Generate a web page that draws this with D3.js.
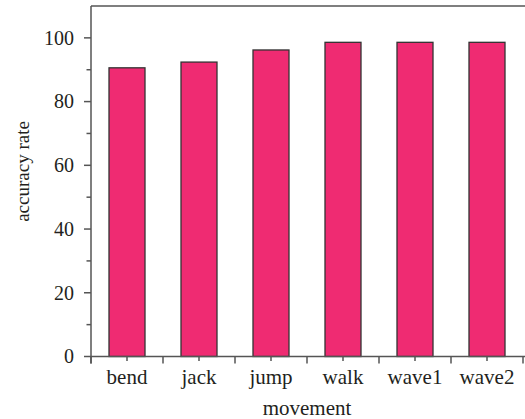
<!DOCTYPE html>
<html>
<head>
<meta charset="utf-8">
<script src="https://cdn.jsdelivr.net/npm/d3@7"></script>
<style>
  html, body { margin: 0; padding: 0; background: #fff; }
  svg { display: block; }
  text { font-family: "Liberation Serif", "DejaVu Serif", serif; fill: #231f20; }
</style>
</head>
<body>
<svg id="chart" width="525" height="419"></svg>
<script>
// Recognition accuracy per movement class
const categories = ["bend", "jack", "jump", "walk", "wave1", "wave2"];
const accuracy = [90.6, 92.4, 96.2, 98.6, 98.6, 98.6];
const yTicks = [0, 20, 40, 60, 80, 100];
const yMinorTicks = [10, 30, 50, 70, 90];

const svg = d3.select("#chart");
const plotLeft = 91, plotRight = 523, plotTop = 6, plotBottom = 356.5;

const x = d3.scaleBand().domain(categories).range([plotLeft, plotRight])
  .paddingInner(0.5).paddingOuter(0.25);
const y = d3.scaleLinear().domain([0, 110]).range([plotBottom, plotTop]);

const axisColor = "#555";
const bandStep = x.step();

// Bars
svg.append("g").selectAll("rect")
  .data(categories)
  .join("rect")
  .attr("x", (d) => x(d))
  .attr("width", x.bandwidth())
  .attr("y", (d, i) => y(accuracy[i]))
  .attr("height", (d, i) => y(0) - y(accuracy[i]))
  .attr("fill", "#ef2b72")
  .attr("stroke", "#333")
  .attr("stroke-width", 1.3);

// Top frame line
svg.append("line")
  .attr("x1", plotLeft).attr("x2", 525)
  .attr("y1", plotTop).attr("y2", plotTop)
  .attr("stroke", axisColor).attr("stroke-width", 1.5);

// Left axis with major and minor ticks
const yAxis = svg.append("g").attr("transform", `translate(${plotLeft},0)`);
yAxis.append("line")
  .attr("x1", 0).attr("x2", 0).attr("y1", plotTop).attr("y2", plotBottom + 7)
  .attr("stroke", axisColor).attr("stroke-width", 1.5);
yAxis.selectAll("line.major").data(yTicks).join("line")
  .attr("class", "major")
  .attr("x1", -7).attr("x2", 0)
  .attr("y1", (d) => y(d)).attr("y2", (d) => y(d))
  .attr("stroke", axisColor).attr("stroke-width", 1.5);
yAxis.selectAll("line.minor").data(yMinorTicks).join("line")
  .attr("class", "minor")
  .attr("x1", -4.5).attr("x2", 0)
  .attr("y1", (d) => y(d)).attr("y2", (d) => y(d))
  .attr("stroke", axisColor).attr("stroke-width", 1.5);
yAxis.selectAll("text").data(yTicks).join("text")
  .attr("x", -17).attr("y", (d) => y(d))
  .attr("dy", "0.34em")
  .attr("text-anchor", "end")
  .attr("font-size", 20)
  .text((d) => d);

// Bottom axis: major ticks between bands, minor ticks at band centres
const xAxis = svg.append("g").attr("transform", `translate(0,${plotBottom})`);
xAxis.append("line")
  .attr("x1", plotLeft).attr("x2", 525).attr("y1", 0).attr("y2", 0)
  .attr("stroke", axisColor).attr("stroke-width", 1.5);
const boundaries = categories.map((d) => x(d) - (bandStep - x.bandwidth()) / 2);
boundaries.push(plotRight);
xAxis.selectAll("line.major").data(boundaries).join("line")
  .attr("class", "major")
  .attr("x1", (d) => d).attr("x2", (d) => d)
  .attr("y1", 0).attr("y2", 7)
  .attr("stroke", axisColor).attr("stroke-width", 1.5);
xAxis.selectAll("line.minor").data(categories).join("line")
  .attr("class", "minor")
  .attr("x1", (d) => x(d) + x.bandwidth() / 2).attr("x2", (d) => x(d) + x.bandwidth() / 2)
  .attr("y1", 0).attr("y2", 4.5)
  .attr("stroke", axisColor).attr("stroke-width", 1.5);
xAxis.selectAll("text").data(categories).join("text")
  .attr("x", (d) => x(d) + x.bandwidth() / 2)
  .attr("y", 27)
  .attr("text-anchor", "middle")
  .attr("font-size", 21)
  .text((d) => d);

// Axis titles
svg.append("text")
  .attr("x", 307).attr("y", 415)
  .attr("text-anchor", "middle")
  .attr("font-size", 21)
  .text("movement");

svg.append("text")
  .attr("transform", "translate(29,171.5) rotate(-90)")
  .attr("text-anchor", "middle")
  .attr("font-size", 19)
  .text("accuracy rate");
</script>
</body>
</html>
